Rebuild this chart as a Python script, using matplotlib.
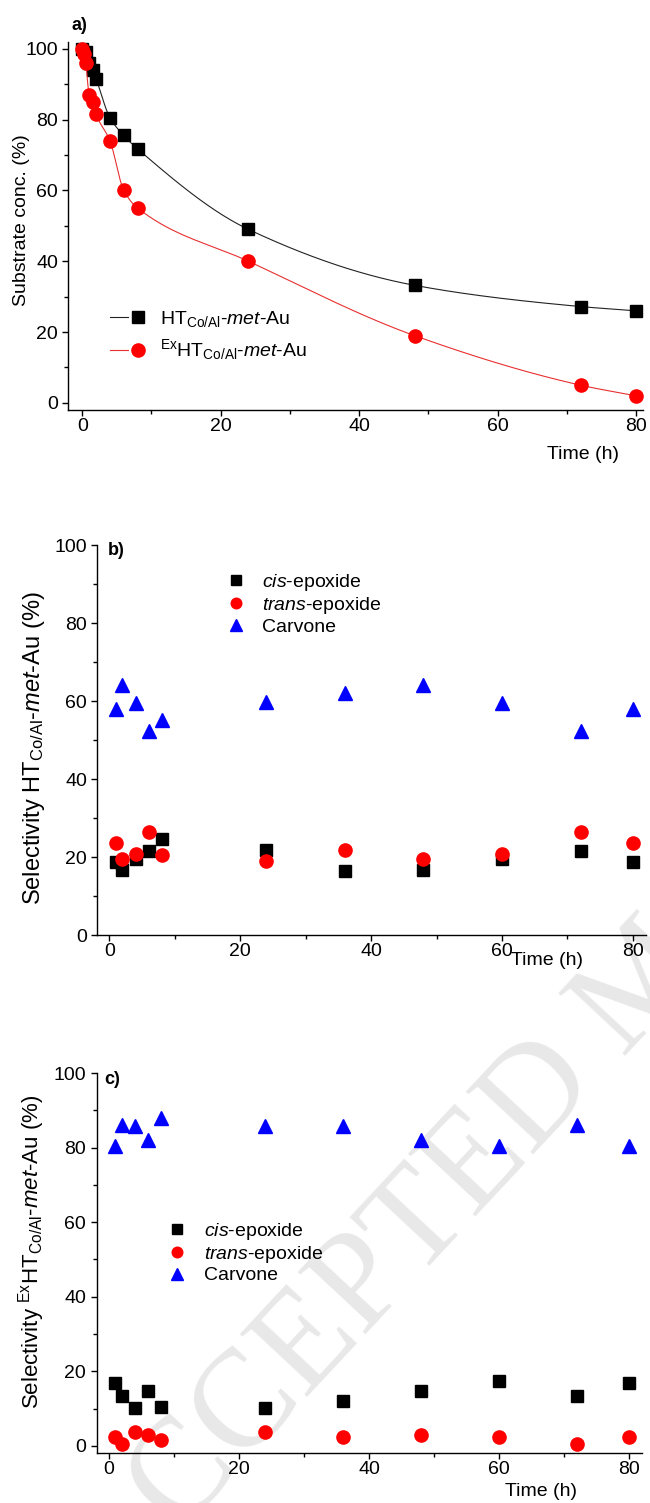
import numpy as np
import matplotlib
matplotlib.use('Agg')
import matplotlib.pyplot as plt
from matplotlib.ticker import MultipleLocator
from matplotlib.legend_handler import HandlerTuple

plt.rcParams['font.family'] = ['Liberation Sans', 'DejaVu Sans']
plt.rcParams['mathtext.fontset'] = 'custom'
plt.rcParams['mathtext.rm'] = 'Liberation Sans'
plt.rcParams['mathtext.it'] = 'Liberation Sans:italic'
plt.rcParams['mathtext.bf'] = 'Liberation Sans:bold'

# a) substrate conversion
t_ht = [0, 0.5, 1, 1.5, 2, 4, 6, 8, 24, 48, 72, 80]
conc_ht = [100, 99, 96, 94, 91.5, 80.5, 75.5, 71.7, 49, 33.2, 27.2, 26]
t_ex = [0, 0.25, 0.5, 1, 1.5, 2, 4, 6, 8, 24, 48, 72, 80]
conc_ex = [100, 98.5, 96, 87, 85, 81.5, 74, 60, 55, 40, 19, 5, 2]

# b) and c) selectivity
t_sel = [1, 2, 4, 6, 8, 24, 36, 48, 60, 72, 80]
cis_b = [18.7, 16.6, 19.6, 21.5, 24.5, 21.7, 16.4, 16.6, 19.6, 21.5, 18.7]
trans_b = [23.6, 19.6, 20.7, 26.4, 20.4, 18.9, 21.9, 19.6, 20.8, 26.4, 23.5]
carv_b = [58, 64, 59.6, 52.3, 55.1, 59.7, 62, 64, 59.6, 52.3, 58]
cis_c = [17.0, 13.4, 10.3, 14.8, 10.5, 10.3, 12.1, 14.8, 17.3, 13.4, 17.0]
trans_c = [2.5, 0.5, 3.8, 2.9, 1.6, 3.8, 2.3, 3.0, 2.3, 0.6, 2.5]
carv_c = [80.5, 86, 85.7, 82, 87.9, 85.9, 85.7, 82, 80.5, 86.1, 80.5]

lbl_ht = r'HT$_{\rm Co/Al}$-$\it met$-Au'
lbl_ex = r'$^{\rm Ex}$HT$_{\rm Co/Al}$-$\it met$-Au'
lbl_sel = [r'$\it cis$-epoxide', r'$\it trans$-epoxide', 'Carvone']


def pchip(x, y, xs):
    # monotone cubic curve through the measured points (like the smooth line in the original)
    x = np.asarray(x, float)
    y = np.asarray(y, float)
    h = np.diff(x)
    d = np.diff(y) / h
    m = np.zeros_like(y)
    m[0], m[-1] = d[0], d[-1]
    for k in range(1, len(x) - 1):
        if d[k - 1] * d[k] > 0:
            w1 = 2 * h[k] + h[k - 1]
            w2 = h[k] + 2 * h[k - 1]
            m[k] = (w1 + w2) / (w1 / d[k - 1] + w2 / d[k])
    idx = np.clip(np.searchsorted(x, xs) - 1, 0, len(x) - 2)
    hk = h[idx]
    s = (xs - x[idx]) / hk
    h00 = 2 * s**3 - 3 * s**2 + 1
    h10 = s**3 - 2 * s**2 + s
    h01 = -2 * s**3 + 3 * s**2
    h11 = s**3 - s**2
    return h00 * y[idx] + h10 * hk * m[idx] + h01 * y[idx + 1] + h11 * hk * m[idx + 1]


W, H = 650, 1503
fig = plt.figure(figsize=(6.5, 15.03), dpi=100)


def add_ax(l, r, t, b):
    ax = fig.add_axes([l / W, 1 - b / H, (r - l) / W, (b - t) / H])
    ax.patch.set_alpha(0)
    for s in ['top', 'right']:
        ax.spines[s].set_visible(False)
    for s in ['left', 'bottom']:
        ax.spines[s].set_linewidth(1.0)
    ax.xaxis.set_major_locator(MultipleLocator(20))
    ax.xaxis.set_minor_locator(MultipleLocator(10))
    ax.yaxis.set_major_locator(MultipleLocator(20))
    ax.yaxis.set_minor_locator(MultipleLocator(10))
    ax.tick_params(which='major', direction='out', length=4, width=1, labelsize=14)
    ax.tick_params(which='minor', direction='out', length=3, width=1)
    ax.tick_params(axis='x', pad=2)
    ax.tick_params(axis='y', pad=3.5)
    return ax


ax_a = add_ax(68.4, 643, 41.6, 410)
ax_b = add_ax(97.4, 646, 545, 935)
ax_c = add_ax(96.6, 642.4, 1073, 1453)

# watermark
fig.text(110 / W, 1 - 1608 / H, 'ACCEPTED MANUSCRIPT', family='Liberation Serif',
         fontsize=100, color='#e8e8e8', rotation=47, rotation_mode='anchor',
         ha='left', va='baseline', zorder=-5)

# ---- a)
xs = np.linspace(0, 80, 600)
l1, = ax_a.plot(xs, pchip(t_ht, conc_ht, xs), color='#222222', lw=0.8)
m1, = ax_a.plot(t_ht, conc_ht, 's', color='black', ms=8.5, ls='none')
l2, = ax_a.plot(xs, pchip(t_ex, conc_ex, xs), color='#e83030', lw=0.8)
m2, = ax_a.plot(t_ex, conc_ex, 'o', color='#ff0000', ms=9.5, ls='none')
ax_a.set_xlim(-2, 81)
ax_a.set_ylim(-2, 102)
ax_a.set_xlabel('Time (h)', fontsize=14)
ax_a.xaxis.set_label_coords(0.8956, -0.0977)
ax_a.set_ylabel('Substrate conc. (%)', fontsize=14)
ax_a.yaxis.set_label_coords(-0.066, 0.516)
ax_a.legend([(l1, m1), (l2, m2)], [lbl_ht, lbl_ex], handler_map={tuple: HandlerTuple(ndivide=None)},
            loc='center left', bbox_to_anchor=(0.0724, 0.2022), frameon=False, fontsize=14,
            handlelength=1.9, handletextpad=0.65, labelspacing=0.45, borderpad=0, borderaxespad=0)
fig.text(72 / W, 1 - 25 / H, 'a)', fontsize=13, fontweight='bold', va='center')

# ---- b) and c)
def selectivity(ax, cis, trans, carv, leg_anchor):
    ax.plot(t_sel, cis, 's', color='black', ms=8.5, label=lbl_sel[0])
    ax.plot(t_sel, trans, 'o', color='#ff0000', ms=9.5, label=lbl_sel[1])
    ax.plot(t_sel, carv, '^', color='#0000ff', ms=10, label=lbl_sel[2])
    ax.legend(loc='center left', bbox_to_anchor=leg_anchor, frameon=False, fontsize=14,
              handlelength=1.0, handletextpad=0.85, labelspacing=0.1, borderpad=0,
              borderaxespad=0, markerscale=0.8)


selectivity(ax_b, cis_b, trans_b, carv_b, (0.235, 0.849))
ax_b.set_xlim(-1.83, 82)
ax_b.set_ylim(0, 100)
ax_b.set_xlabel('Time (h)', fontsize=14)
ax_b.xaxis.set_label_coords(0.8195, -0.0436)
ax_b.set_ylabel(r'Selectivity HT$_{\rm Co/Al}$-$\it met$-Au (%)', fontsize=17)
ax_b.yaxis.set_label_coords(-0.092, 0.479)
fig.text(108 / W, 1 - 551 / H, 'b)', fontsize=13, fontweight='bold', va='center')

selectivity(ax_c, cis_c, trans_c, carv_c, (0.1303, 0.527))
ax_c.set_xlim(-1.85, 82)
ax_c.set_ylim(-1.9, 100)
ax_c.set_xlabel('Time (h)', fontsize=14)
ax_c.xaxis.set_label_coords(0.8142, -0.079)
ax_c.set_ylabel(r'Selectivity $^{\rm Ex}$HT$_{\rm Co/Al}$-$\it met$-Au (%)', fontsize=16)
ax_c.yaxis.set_label_coords(-0.091, 0.53)
fig.text(104 / W, 1 - 1079 / H, 'c)', fontsize=13, fontweight='bold', va='center')

fig.savefig('out.png', dpi=100)
